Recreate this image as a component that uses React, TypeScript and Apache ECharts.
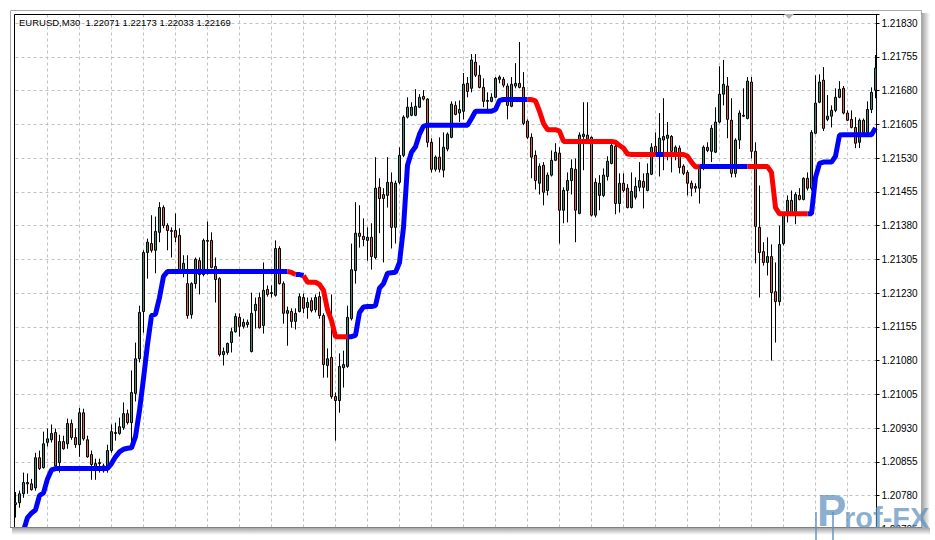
import React, { useEffect, useRef } from "react";
import * as echarts from "echarts";

const headerText = "EURUSD,M30  1.22071 1.22173 1.22033 1.22169";

const opens = [
1.20760,1.20764,1.20784,1.20809,1.20806,1.20797,1.20864,1.20842,1.20898,1.20904,
1.20920,1.20853,1.20900,1.20895,1.20940,1.20909,1.20893,1.20964,1.20904,1.20871,
1.20842,1.20851,1.20846,1.20837,1.20880,1.20918,1.20918,1.20931,1.20962,1.20942,
1.21007,1.21084,1.21189,1.21320,1.21340,1.21325,1.21365,1.21420,1.21380,1.21369,
1.21369,1.21358,1.21276,1.21251,1.21182,1.21251,1.21302,1.21271,1.21347,1.21347,
1.21289,1.21262,1.21093,1.21098,1.21120,1.21144,1.21176,1.21156,1.21165,1.21100,
1.21191,1.21220,1.21158,1.21238,1.21231,1.21225,1.21329,1.21251,1.21185,1.21189,
1.21167,1.21189,1.21220,1.21198,1.21213,1.21193,1.21222,1.21180,1.21069,1.21087,
1.21000,1.20991,1.21064,1.21067,1.21173,1.21280,1.21363,1.21356,1.21347,1.21354,
1.21309,1.21465,1.21449,1.21447,1.21476,1.21376,1.21476,1.21536,1.21621,1.21625,
1.21625,1.21643,1.21667,1.21661,1.21565,1.21505,1.21532,1.21503,1.21550,1.21576,
1.21647,1.21630,1.21634,1.21696,1.21685,1.21743,1.21714,1.21687,1.21658,1.21656,
1.21665,1.21705,1.21705,1.21690,1.21645,1.21690,1.21696,1.21687,1.21612,1.21576,
1.21536,1.21474,1.21514,1.21458,1.21492,1.21525,1.21541,1.21414,1.21458,1.21480,
1.21505,1.21407,1.21578,1.21581,1.21576,1.21403,1.21447,1.21447,1.21489,1.21518,
1.21556,1.21429,1.21474,1.21463,1.21420,1.21443,1.21465,1.21478,1.21458,1.21494,
1.21556,1.21541,1.21570,1.21574,1.21578,1.21543,1.21552,1.21512,1.21498,1.21474,
1.21467,1.21463,1.21507,1.21554,1.21545,1.21543,1.21610,1.21672,1.21690,1.21614,
1.21496,1.21570,1.21623,1.21618,1.21699,1.21545,1.21376,1.21322,1.21298,1.21311,
1.21233,1.21211,1.21340,1.21407,1.21436,1.21407,1.21447,1.21438,1.21485,1.21463,
1.21585,1.21654,1.21703,1.21616,1.21623,1.21636,1.21665,1.21685,1.21630,1.21616,
1.21598,1.21565,1.21614,1.21587,1.21638,1.21681
];

const highs = [
1.20788,1.20791,1.20831,1.20829,1.20817,1.20875,1.20880,1.20922,1.20929,1.20938,
1.20929,1.20915,1.20913,1.20951,1.20949,1.20929,1.20975,1.20973,1.20913,1.20880,
1.20862,1.20862,1.20851,1.20893,1.20938,1.20942,1.20953,1.20987,1.20971,1.21058,
1.21120,1.21202,1.21325,1.21351,1.21403,1.21400,1.21432,1.21425,1.21385,1.21376,
1.21407,1.21374,1.21314,1.21314,1.21254,1.21309,1.21309,1.21351,1.21389,1.21365,
1.21309,1.21265,1.21109,1.21120,1.21153,1.21185,1.21185,1.21173,1.21171,1.21231,
1.21220,1.21231,1.21298,1.21247,1.21247,1.21347,1.21334,1.21256,1.21200,1.21196,
1.21196,1.21229,1.21229,1.21220,1.21220,1.21227,1.21233,1.21185,1.21107,1.21227,
1.21009,1.21096,1.21102,1.21202,1.21340,1.21432,1.21425,1.21396,1.21376,1.21385,
1.21532,1.21485,1.21463,1.21532,1.21498,1.21480,1.21554,1.21625,1.21665,1.21654,
1.21683,1.21672,1.21681,1.21663,1.21574,1.21536,1.21576,1.21587,1.21587,1.21656,
1.21656,1.21658,1.21719,1.21710,1.21761,1.21761,1.21736,1.21707,1.21676,1.21674,
1.21710,1.21714,1.21710,1.21696,1.21710,1.21741,1.21788,1.21721,1.21616,1.21585,
1.21547,1.21518,1.21521,1.21498,1.21547,1.21563,1.21554,1.21465,1.21498,1.21527,
1.21529,1.21587,1.21654,1.21654,1.21578,1.21485,1.21492,1.21507,1.21534,1.21563,
1.21563,1.21496,1.21496,1.21472,1.21498,1.21487,1.21521,1.21496,1.21518,1.21563,
1.21587,1.21630,1.21663,1.21610,1.21581,1.21558,1.21558,1.21516,1.21503,1.21480,
1.21474,1.21514,1.21558,1.21565,1.21603,1.21643,1.21734,1.21748,1.21710,1.21663,
1.21574,1.21636,1.21685,1.21710,1.21710,1.21565,1.21469,1.21343,1.21354,1.21338,
1.21298,1.21380,1.21407,1.21447,1.21458,1.21454,1.21463,1.21487,1.21498,1.21592,
1.21714,1.21716,1.21732,1.21670,1.21647,1.21685,1.21701,1.21690,1.21636,1.21636,
1.21621,1.21618,1.21618,1.21656,1.21687,1.21759
];

const lows = [
1.20731,1.20753,1.20775,1.20784,1.20791,1.20791,1.20837,1.20840,1.20889,1.20898,
1.20844,1.20831,1.20882,1.20884,1.20904,1.20886,1.20866,1.20902,1.20864,1.20815,
1.20815,1.20831,1.20831,1.20831,1.20875,1.20902,1.20915,1.20926,1.20938,1.20898,
1.20989,1.21076,1.21142,1.21262,1.21320,1.21274,1.21343,1.21374,1.21325,1.21309,
1.21343,1.21274,1.21265,1.21173,1.21173,1.21240,1.21227,1.21267,1.21271,1.21285,
1.21209,1.21089,1.21069,1.21093,1.21098,1.21142,1.21133,1.21151,1.21153,1.21098,
1.21151,1.21151,1.21140,1.21222,1.21220,1.21222,1.21249,1.21162,1.21113,1.21153,
1.21149,1.21187,1.21185,1.21173,1.21187,1.21187,1.21173,1.21042,1.21042,1.20995,
1.20902,1.20964,1.21020,1.21064,1.21169,1.21251,1.21331,1.21334,1.21302,1.21282,
1.21305,1.21363,1.21298,1.21420,1.21329,1.21340,1.21472,1.21532,1.21618,1.21623,
1.21623,1.21641,1.21658,1.21554,1.21498,1.21500,1.21498,1.21487,1.21545,1.21574,
1.21625,1.21610,1.21616,1.21665,1.21676,1.21710,1.21685,1.21643,1.21632,1.21654,
1.21663,1.21696,1.21687,1.21616,1.21643,1.21685,1.21685,1.21603,1.21572,1.21485,
1.21460,1.21449,1.21425,1.21447,1.21489,1.21523,1.21340,1.21385,1.21387,1.21449,
1.21343,1.21405,1.21503,1.21570,1.21400,1.21398,1.21414,1.21443,1.21480,1.21516,
1.21405,1.21409,1.21454,1.21418,1.21418,1.21438,1.21456,1.21418,1.21456,1.21492,
1.21536,1.21489,1.21503,1.21525,1.21498,1.21525,1.21496,1.21492,1.21447,1.21445,
1.21454,1.21429,1.21503,1.21543,1.21521,1.21541,1.21607,1.21647,1.21574,1.21487,
1.21487,1.21550,1.21621,1.21616,1.21529,1.21296,1.21220,1.21291,1.21269,1.21080,
1.21120,1.21202,1.21336,1.21387,1.21405,1.21383,1.21436,1.21436,1.21458,1.21458,
1.21583,1.21652,1.21590,1.21612,1.21598,1.21632,1.21663,1.21627,1.21612,1.21596,
1.21552,1.21552,1.21583,1.21583,1.21630,1.21663
];

const closes = [
1.20764,1.20784,1.20809,1.20806,1.20793,1.20864,1.20840,1.20895,1.20906,1.20918,
1.20846,1.20900,1.20884,1.20940,1.20909,1.20893,1.20964,1.20906,1.20866,1.20849,
1.20851,1.20853,1.20835,1.20880,1.20922,1.20920,1.20933,1.20962,1.20942,1.21009,
1.21084,1.21187,1.21320,1.21343,1.21325,1.21367,1.21420,1.21380,1.21369,1.21367,
1.21354,1.21276,1.21296,1.21180,1.21251,1.21305,1.21271,1.21347,1.21345,1.21287,
1.21260,1.21093,1.21100,1.21118,1.21144,1.21178,1.21156,1.21165,1.21160,1.21185,
1.21205,1.21153,1.21236,1.21227,1.21229,1.21329,1.21251,1.21185,1.21191,1.21167,
1.21185,1.21222,1.21196,1.21209,1.21191,1.21220,1.21180,1.21071,1.21084,1.21000,
1.20991,1.21067,1.21071,1.21176,1.21282,1.21363,1.21356,1.21349,1.21354,1.21311,
1.21463,1.21440,1.21440,1.21476,1.21376,1.21474,1.21536,1.21621,1.21643,1.21643,
1.21645,1.21665,1.21661,1.21565,1.21505,1.21532,1.21505,1.21554,1.21583,1.21650,
1.21627,1.21638,1.21694,1.21678,1.21748,1.21714,1.21687,1.21656,1.21656,1.21665,
1.21707,1.21710,1.21692,1.21647,1.21694,1.21696,1.21687,1.21607,1.21576,1.21532,
1.21480,1.21512,1.21454,1.21492,1.21525,1.21543,1.21414,1.21458,1.21480,1.21507,
1.21414,1.21581,1.21583,1.21572,1.21403,1.21476,1.21474,1.21492,1.21523,1.21558,
1.21429,1.21474,1.21458,1.21420,1.21456,1.21467,1.21480,1.21465,1.21496,1.21554,
1.21541,1.21574,1.21578,1.21581,1.21545,1.21554,1.21509,1.21496,1.21474,1.21463,
1.21463,1.21509,1.21554,1.21547,1.21596,1.21610,1.21672,1.21694,1.21616,1.21496,
1.21570,1.21630,1.21625,1.21701,1.21545,1.21378,1.21320,1.21298,1.21311,1.21231,
1.21211,1.21338,1.21405,1.21436,1.21407,1.21449,1.21438,1.21485,1.21463,1.21587,
1.21652,1.21699,1.21596,1.21623,1.21636,1.21665,1.21683,1.21630,1.21614,1.21598,
1.21563,1.21614,1.21587,1.21638,1.21676,1.21730
];

// step indicator value per bar
const stepLine = [
1.20653,1.20680,1.20702,1.20731,1.20741,1.20748,1.20780,1.20786,1.20817,1.20837,
1.20840,1.20840,1.20840,1.20840,1.20840,1.20840,1.20840,1.20840,1.20840,1.20840,
1.20840,1.20840,1.20840,1.20840,1.20851,1.20866,1.20877,1.20883,1.20885,1.20886,
1.20911,1.20969,1.21040,1.21116,1.21180,1.21183,1.21220,1.21267,1.21278,1.21278,
1.21278,1.21278,1.21278,1.21278,1.21278,1.21278,1.21278,1.21278,1.21278,1.21278,
1.21278,1.21278,1.21278,1.21278,1.21278,1.21278,1.21278,1.21278,1.21278,1.21278,
1.21278,1.21278,1.21278,1.21278,1.21278,1.21278,1.21278,1.21278,1.21278,1.21276,
1.21271,1.21271,1.21269,1.21254,1.21254,1.21254,1.21249,1.21236,1.21193,1.21169,
1.21133,1.21133,1.21133,1.21133,1.21133,1.21136,1.21187,1.21199,1.21200,1.21200,
1.21202,1.21241,1.21251,1.21274,1.21275,1.21276,1.21298,1.21376,1.21514,1.21543,
1.21555,1.21583,1.21601,1.21603,1.21603,1.21603,1.21603,1.21603,1.21603,1.21603,
1.21603,1.21603,1.21603,1.21603,1.21618,1.21634,1.21634,1.21634,1.21634,1.21634,
1.21638,1.21658,1.21660,1.21660,1.21660,1.21660,1.21660,1.21660,1.21660,1.21660,
1.21657,1.21634,1.21607,1.21593,1.21593,1.21593,1.21590,1.21567,1.21567,1.21567,
1.21567,1.21567,1.21567,1.21567,1.21567,1.21567,1.21567,1.21567,1.21567,1.21567,
1.21565,1.21558,1.21552,1.21539,1.21538,1.21538,1.21538,1.21538,1.21538,1.21538,
1.21538,1.21538,1.21538,1.21538,1.21538,1.21538,1.21538,1.21538,1.21534,1.21521,
1.21510,1.21511,1.21511,1.21511,1.21511,1.21511,1.21511,1.21511,1.21511,1.21511,
1.21511,1.21511,1.21511,1.21511,1.21511,1.21511,1.21511,1.21511,1.21511,1.21498,
1.21420,1.21406,1.21406,1.21406,1.21406,1.21406,1.21406,1.21406,1.21406,1.21406,
1.21487,1.21518,1.21521,1.21521,1.21521,1.21534,1.21581,1.21582,1.21582,1.21582,
1.21582,1.21582,1.21582,1.21582,1.21582,1.21597
];

// [first bar index, trend] : 1 = up (blue), -1 = down (red)
const trendRuns = [
  [0, 1], [69, -1], [71, 1], [73, -1], [84, 1], [129, -1],
  [161, 1], [163, -1], [172, 1], [184, -1], [199, 1],
];

const yTickLabels = [
  "1.20705", "1.20780", "1.20855", "1.20930", "1.21005", "1.21080", "1.21155", "1.21230",
  "1.21305", "1.21380", "1.21455", "1.21530", "1.21605", "1.21680", "1.21755", "1.21830",
];

const BASE_PRICE = 1.20705;
const TICK_PTS = 75;
const TOP_PTS = 1144;

export default function App() {
  const ref = useRef<HTMLDivElement>(null);

  useEffect(() => {
    const chart = echarts.init(ref.current!, null, { renderer: "svg" });
    const toPts = (p: number) => Math.round((p - BASE_PRICE) * 100000);
    const n = opens.length;
    const cats = opens.map((_, i) => String(i));
    const trend: number[] = [];
    for (let i = 0; i < n; i++) {
      let t = 1;
      for (const [s, v] of trendRuns) if (i >= s) t = v;
      trend.push(t);
    }
    const upData = stepLine.map((v, i) => (trend[i] === 1 || trend[i + 1] === 1 ? toPts(v) : null));
    const dnData = stepLine.map((v, i) => (trend[i] === -1 || trend[i + 1] === -1 ? toPts(v) : null));
    const candles = opens.map((o, i) => [toPts(o), toPts(closes[i]), toPts(lows[i]), toPts(highs[i])]);

    const font = "Liberation Sans";
    const wm = "rgba(95,145,190,0.72)";

    chart.setOption({
      animation: false,
      backgroundColor: "#ffffff",
      grid: { left: 15.5, top: 14.5, width: 860, height: 514.8, outerBoundsMode: "none" },
      xAxis: {
        type: "category",
        data: cats,
        boundaryGap: false,
        axisLine: { show: false },
        axisTick: { show: false },
        axisLabel: { show: false },
        splitLine: {
          show: true,
          interval: (idx: number) => idx > 0 && idx % 8 === 0,
          lineStyle: { color: "#c0c0c0", width: 1, type: [3, 3] },
        },
      },
      yAxis: {
        type: "value",
        position: "right",
        min: 0,
        max: TOP_PTS,
        interval: TICK_PTS,
        axisLine: { show: false },
        axisTick: { show: true, length: 4, lineStyle: { color: "#000" } },
        axisLabel: {
          margin: 6,
          color: "#000",
          fontSize: 10,
          fontFamily: font,
          formatter: (v: number) => (v % TICK_PTS === 0 ? yTickLabels[v / TICK_PTS] ?? "" : ""),
        },
        splitLine: { show: true, lineStyle: { color: "#c0c0c0", width: 1, type: [3, 3] } },
      },
      series: [
        {
          type: "candlestick",
          data: candles,
          barWidth: 2,
          clip: false,
          silent: true,
          itemStyle: {
            color: "#2f8f7e",
            color0: "#de5d4f",
            borderColor: "#000",
            borderColor0: "#000",
            borderColorDoji: "#000",
            borderWidth: 1,
          },
        },
        {
          type: "line",
          data: upData,
          symbol: "none",
          showSymbol: false,
          silent: true,
          z: 4,
          lineStyle: { color: "#0000ff", width: 5 },
        },
        {
          type: "line",
          data: dnData,
          symbol: "none",
          showSymbol: false,
          silent: true,
          z: 4,
          lineStyle: { color: "#ff0000", width: 5 },
        },
      ],
      graphic: [
        {
          type: "rect", z: 50, silent: true,
          shape: { x: 10.5, y: 10.5, width: 911, height: 517 },
          style: { fill: "none", stroke: "#a8a8a8", lineWidth: 1 },
        },
        {
          type: "rect", z: 50, silent: true,
          shape: { x: 14.5, y: 14.5, width: 862, height: 520 },
          style: { fill: "none", stroke: "#000", lineWidth: 1 },
        },
        {
          type: "polygon", z: 50, silent: true,
          shape: { points: [[784, 14], [794, 14], [789, 19]] },
          style: { fill: "#b0b0b0" },
        },
        {
          type: "text", z: 50, silent: true, x: 19, y: 22,
          style: { text: headerText, fill: "#000", fontSize: 9.5, fontFamily: font, verticalAlign: "middle" },
        },
        {
          type: "rect", z: 60, silent: true,
          shape: { x: 0, y: 528, width: 935, height: 12 },
          style: { fill: "#ffffff" },
        },
        {
          type: "rect", z: 61, silent: true,
          shape: { x: 12, y: 528, width: 918, height: 7 },
          style: {
            fill: new echarts.graphic.LinearGradient(0, 0, 0, 1, [
              { offset: 0, color: "rgba(0,0,0,0.35)" },
              { offset: 1, color: "rgba(0,0,0,0)" },
            ]),
          },
        },
        {
          type: "rect", z: 61, silent: true,
          shape: { x: 922, y: 13, width: 8, height: 515 },
          style: {
            fill: new echarts.graphic.LinearGradient(0, 0, 1, 0, [
              { offset: 0, color: "rgba(0,0,0,0.35)" },
              { offset: 1, color: "rgba(0,0,0,0)" },
            ]),
          },
        },
        {
          type: "line", z: 62, silent: true,
          shape: { x1: 10, y1: 527.5, x2: 922, y2: 527.5 },
          style: { stroke: "#808080", lineWidth: 1 },
        },
        {
          type: "group", z: 70, silent: true,
          children: [
            { type: "rect", shape: { x: 815, y: 512, width: 2, height: 28 }, style: { fill: wm }, z: 70 },
            { type: "rect", shape: { x: 832, y: 512, width: 2, height: 28 }, style: { fill: wm }, z: 70 },
            {
              type: "text", x: 817, y: 488, z: 71,
              style: { text: "P", fill: wm, fontSize: 44, fontWeight: "bold", fontFamily: font },
            },
            {
              type: "text", x: 844, y: 503, z: 71,
              style: { text: "rof-FX", fill: wm, fontSize: 29, fontWeight: "bold", fontFamily: font },
            },
          ],
        },
      ],
    });
    return () => chart.dispose();
  }, []);

  return <div ref={ref} style={{ position: "absolute", left: 0, top: 0, width: 935, height: 540 }} />;
}
